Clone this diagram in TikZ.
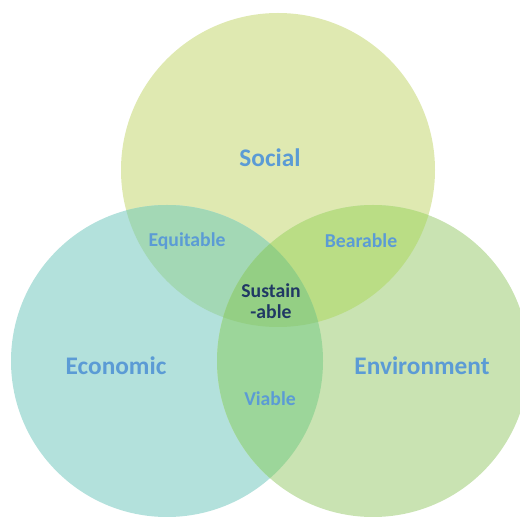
\documentclass[tikz,border=0pt]{standalone}
\usepackage{fontspec}
\setmainfont{Carlito}
\definecolor{socfill}{HTML}{DFE9B1}
\definecolor{ecofill}{HTML}{B3E1DC}
\definecolor{envfill}{HTML}{C9E3B2}
\definecolor{soceco}{HTML}{A3D8B5}
\definecolor{socenv}{HTML}{BADD85}
\definecolor{ecoenv}{HTML}{9CD69A}
\definecolor{allthree}{HTML}{94CF84}
\definecolor{lblblue}{HTML}{5B9BD5}
\definecolor{lbldark}{HTML}{203864}
\begin{document}
\begin{tikzpicture}[x=0.025cm,y=-0.025cm,
  big/.style={font=\bfseries\fontsize{18}{20}\selectfont,text=lblblue},
  small/.style={font=\bfseries\fontsize{14}{15}\selectfont,text=lblblue}]
\useasboundingbox(0,0)rectangle(520,517);
\clip(0,0)rectangle(520,517);
\coordinate(soc)at(278,170);
\coordinate(eco)at(167,361);
\coordinate(env)at(373,361);
% the three sets
\fill[socfill](soc)circle[radius=157];
\fill[ecofill](eco)circle[radius=156];
\fill[envfill](env)circle[radius=156];
% pairwise overlaps
\begin{scope}\clip(soc)circle[radius=157];\fill[soceco](eco)circle[radius=156];\end{scope}
\begin{scope}\clip(soc)circle[radius=157];\fill[socenv](env)circle[radius=156];\end{scope}
\begin{scope}\clip(eco)circle[radius=156];\fill[ecoenv](env)circle[radius=156];\end{scope}
% middle
\begin{scope}\clip(soc)circle[radius=157];\clip(eco)circle[radius=156];\fill[allthree](env)circle[radius=156];\end{scope}
\node[big](social)at(270,158){Social};
\node[big](economic)at(116,366){Economic};
\node[big](environment)at(422,366){Environment};
\node[small](equitable)at(187,241){Equitable};
\node[small](bearable)at(361,241){Bearable};
\node[small](viable)at(270,399){Viable};
\node[small,text=lbldark,align=center](sustainable)at(271,301){Sustain\\-able};
\end{tikzpicture}
\end{document}
